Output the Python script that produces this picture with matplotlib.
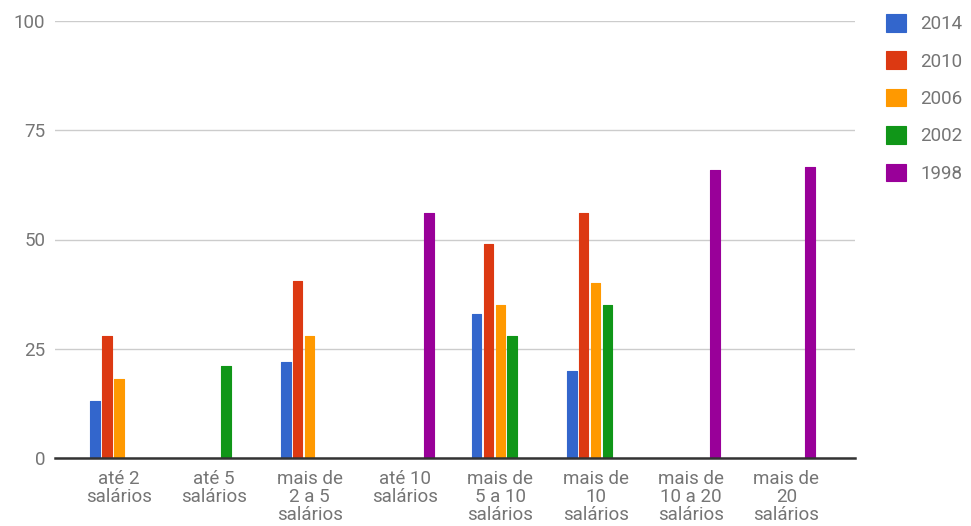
import numpy as np
import matplotlib
matplotlib.use("Agg")
import matplotlib.pyplot as plt

plt.rcParams['font.family'] = ['Roboto', 'DejaVu Sans']

categories = ["até 2\nsalários", "até 5\nsalários", "mais de\n2 a 5\nsalários",
              "até 10\nsalários", "mais de\n5 a 10\nsalários", "mais de\n10\nsalários",
              "mais de\n10 a 20\nsalários", "mais de\n20\nsalários"]
series_names = ["2014", "2010", "2006", "2002", "1998"]
nan = np.nan
v2014 = [13, nan, 22, nan, 33, 20, nan, nan]
v2010 = [28, nan, 40.6, nan, 49, 56, nan, nan]
v2006 = [18, nan, 28, nan, 35, 40, nan, nan]
v2002 = [nan, 21, nan, nan, 28, 35, nan, nan]
v1998 = [nan, nan, nan, 56, nan, nan, 66, 66.5]
colors = ["#3366cc", "#dc3912", "#ff9900", "#109618", "#990099"]
yticks = [0, 25, 50, 75, 100]

all_series = [v2014, v2010, v2006, v2002, v1998]

fig = plt.figure(figsize=(9.71, 5.26), dpi=100)
ax = fig.add_axes([55/971, 68/526, 800/971, 437/526])

x = np.arange(len(categories))
slot = 0.125
for j, (vals, c, name) in enumerate(zip(all_series, colors, series_names)):
    ax.bar(x + (j - 2) * slot, vals, width=0.10, color=c, edgecolor=c,
           linewidth=0.8, joinstyle='round', label=name, zorder=3)

ax.set_xlim(-0.67, 7.72)
ax.set_ylim(0, 100)
ax.set_yticks(yticks)
ax.set_yticklabels([str(t) for t in yticks])
ax.set_xticks(x)
ax.set_xticklabels(categories)
ax.grid(axis='y', color='#cccccc', linewidth=1, zorder=0)
for s in ['top', 'right', 'left']:
    ax.spines[s].set_visible(False)
ax.spines['bottom'].set_color('#333333')
ax.spines['bottom'].set_linewidth(1.8)
ax.spines['bottom'].set_zorder(4)
ax.tick_params(axis='both', length=0, colors='#757575', labelsize=13.5)
ax.tick_params(axis='y', pad=7)
ax.tick_params(axis='x', pad=9)
for lbl in ax.get_xticklabels():
    lbl.set_linespacing(0.98)

leg = ax.legend(loc='upper left', bbox_to_anchor=(886/971, 1 - 14/526),
                bbox_transform=fig.transFigure, frameon=False,
                fontsize=13.5, labelcolor='#757575', handlelength=1.07,
                handleheight=1.07, labelspacing=0.97, handletextpad=0.75,
                borderaxespad=0, borderpad=0)

fig.savefig("out.png", dpi=100)
